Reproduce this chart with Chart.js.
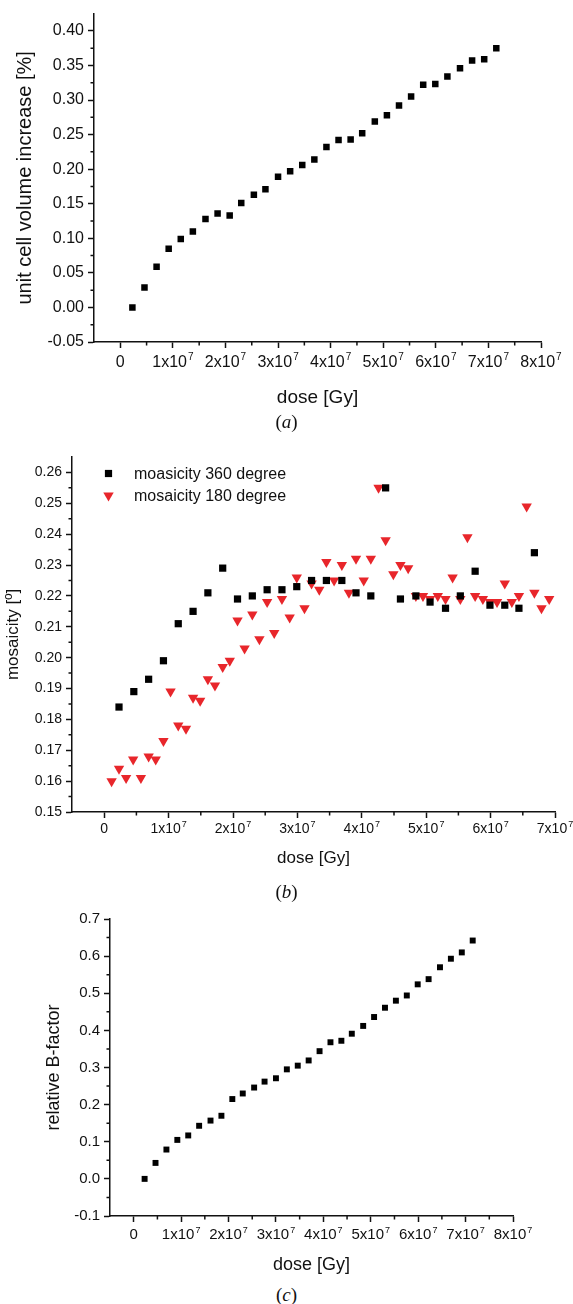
<!DOCTYPE html>
<html>
<head>
<meta charset="utf-8">
<title>Dose dependence</title>
<script src="https://cdn.jsdelivr.net/npm/chart.js@4.4.1/dist/chart.umd.min.js"></script>
<style>
  body { margin: 0; background: #fff; }
  #page { position: relative; width: 573px; height: 1304px; overflow: hidden; background: #fff; }
  canvas { position: absolute; left: 0; }
  .caption {
    position: absolute; left: 0; width: 573px; text-align: center;
    font-family: 'Liberation Serif', 'Times New Roman', serif;
    font-size: 19px; line-height: 20px; color: #111;
  }
</style>
</head>
<body>
<div id="page">
  <canvas id="volumeChart" width="573" height="415" style="top:0"></canvas>
  <canvas id="mosaicChart" width="573" height="440" style="top:440px"></canvas>
  <canvas id="bfactorChart" width="573" height="400" style="top:880px"></canvas>
  <div class="caption" style="top:412px">(<i>a</i>)</div>
  <div class="caption" style="top:882px">(<i>b</i>)</div>
  <div class="caption" style="top:1285px">(<i>c</i>)</div>
</div>

<script>
/* ===============================
   DATA
================================ */
// dose per data set [Gy]
const doseA = [
  2.3e6, 4.6e6, 6.9e6, 9.2e6, 11.5e6, 13.8e6, 16.2e6, 18.5e6, 20.8e6, 23.0e6,
  25.4e6, 27.6e6, 30.0e6, 32.3e6, 34.6e6, 36.9e6, 39.2e6, 41.5e6, 43.8e6, 46.0e6,
  48.4e6, 50.7e6, 53.0e6, 55.3e6, 57.6e6, 59.9e6, 62.2e6, 64.6e6, 66.9e6, 69.2e6,
  71.5e6,
];

// (a) unit cell volume increase [%]
const volumeIncrease = [
  0.000, 0.029, 0.059, 0.085, 0.099, 0.110, 0.128, 0.136, 0.133, 0.151,
  0.163, 0.171, 0.189, 0.197, 0.206, 0.214, 0.232, 0.242, 0.243, 0.252,
  0.269, 0.278, 0.292, 0.305, 0.322, 0.323, 0.334, 0.346, 0.357, 0.359,
  0.375,
];

// (b) mosaicity, 360 degree data sets
const dose360 = [
  2.3e6, 4.6e6, 6.9e6, 9.2e6, 11.5e6, 13.8e6, 16.1e6, 18.4e6, 20.7e6, 23.0e6,
  25.3e6, 27.6e6, 29.9e6, 32.2e6, 34.5e6, 36.9e6, 39.1e6, 41.4e6, 43.7e6, 46.0e6,
  48.4e6, 50.6e6, 53.0e6, 55.3e6, 57.6e6, 59.9e6, 62.2e6, 64.4e6, 66.8e6,
];
const mosaic360 = [
  0.184, 0.189, 0.193, 0.199, 0.211, 0.215, 0.221, 0.229, 0.219, 0.220,
  0.222, 0.222, 0.223, 0.225, 0.225, 0.225, 0.221, 0.220, 0.255, 0.219,
  0.220, 0.218, 0.216, 0.220, 0.228, 0.217, 0.217, 0.216, 0.234,
];

// (b) mosaicity, 180 degree data sets
const dose180 = [
  1.15e6, 2.3e6, 3.4e6, 4.5e6, 5.7e6, 6.9e6, 8.0e6, 9.2e6, 10.3e6, 11.5e6,
  12.7e6, 13.8e6, 14.9e6, 16.1e6, 17.2e6, 18.4e6, 19.5e6, 20.7e6, 21.8e6, 23.0e6,
  24.1e6, 25.3e6, 26.4e6, 27.6e6, 28.8e6, 29.9e6, 31.1e6, 32.2e6, 33.4e6, 34.5e6,
  35.7e6, 36.9e6, 38.0e6, 39.1e6, 40.3e6, 41.4e6, 42.6e6, 43.7e6, 44.9e6, 46.0e6,
  47.2e6, 48.4e6, 49.5e6, 50.6e6, 51.8e6, 53.0e6, 54.1e6, 55.3e6, 56.4e6, 57.6e6,
  58.8e6, 59.9e6, 61.0e6, 62.2e6, 63.3e6, 64.4e6, 65.6e6, 66.8e6, 67.9e6, 69.1e6,
];
const mosaic180 = [
  0.160, 0.164, 0.161, 0.167, 0.161, 0.168, 0.167, 0.173, 0.189, 0.178,
  0.177, 0.187, 0.186, 0.193, 0.191, 0.197, 0.199, 0.212, 0.203, 0.214,
  0.206, 0.218, 0.208, 0.219, 0.213, 0.226, 0.216, 0.224, 0.222, 0.231,
  0.225, 0.230, 0.221, 0.232, 0.225, 0.232, 0.255, 0.238, 0.227, 0.230,
  0.229, 0.220, 0.220, 0.219, 0.220, 0.219, 0.226, 0.219, 0.239, 0.220,
  0.219, 0.218, 0.218, 0.224, 0.218, 0.220, 0.249, 0.221, 0.216, 0.219,
];

// (c) relative B-factor
const relBFactor = [
  0.000, 0.043, 0.079, 0.105, 0.117, 0.143, 0.157, 0.170, 0.215, 0.230,
  0.246, 0.262, 0.271, 0.295, 0.305, 0.319, 0.344, 0.368, 0.372, 0.391,
  0.412, 0.436, 0.461, 0.480, 0.494, 0.524, 0.538, 0.570, 0.593, 0.610,
  0.642,
];

const legend360 = 'moasicity 360 degree';
const legend180 = 'mosaicity 180 degree';

// labeled tick values
const doseTicks8 = [0, 1e7, 2e7, 3e7, 4e7, 5e7, 6e7, 7e7, 8e7];
const doseTicks7 = [0, 1e7, 2e7, 3e7, 4e7, 5e7, 6e7, 7e7];
const volumeTicks = [-0.05, 0, 0.05, 0.10, 0.15, 0.20, 0.25, 0.30, 0.35, 0.40];
const mosaicTicks = [0.15, 0.16, 0.17, 0.18, 0.19, 0.20, 0.21, 0.22, 0.23, 0.24, 0.25, 0.26];
const bfactorTicks = [-0.1, 0, 0.1, 0.2, 0.3, 0.4, 0.5, 0.6, 0.7];

/* ===============================
   HELPERS
================================ */
const FONT = "'Liberation Sans', Arial, Helvetica, sans-serif";
const INK = '#111';
const RED = '#e8262b';

function points(xs, ys) {
  return xs.map((x, i) => ({ x: x, y: ys[i] }));
}

// short unlabeled ticks half way between the labeled ones
const minorTicks = {
  id: 'minorTicks',
  afterDraw(chart, args, opts) {
    const { ctx, chartArea } = chart;
    const xs = chart.scales.x;
    const ys = chart.scales.y;
    ctx.save();
    ctx.strokeStyle = INK;
    ctx.lineWidth = 1.5;
    ctx.beginPath();
    for (let n = Math.ceil(xs.min / opts.x - 1e-6); n * opts.x < xs.max - 1; n++) {
      const v = n * opts.x;
      if (Math.abs(n % 2) !== 1 || v <= xs.min + 1) continue;
      const px = xs.getPixelForValue(v);
      ctx.moveTo(px, chartArea.bottom);
      ctx.lineTo(px, chartArea.bottom + 3.5);
    }
    for (let n = Math.ceil(ys.min / opts.y - 1e-6); n * opts.y < ys.max - 1e-6; n++) {
      const v = n * opts.y;
      if (Math.abs(n % 2) !== 1 || v <= ys.min + 1e-9) continue;
      const py = ys.getPixelForValue(v);
      ctx.moveTo(chartArea.left, py);
      ctx.lineTo(chartArea.left - 3.5, py);
    }
    ctx.stroke();
    ctx.restore();
  },
};

// "1x10^7" style labels with a raised exponent
const doseTickLabels = {
  id: 'doseTickLabels',
  afterDraw(chart, args, opts) {
    const ctx = chart.ctx;
    const xs = chart.scales.x;
    const baseline = chart.chartArea.bottom + opts.offset;
    const big = opts.size + 'px ' + FONT;
    const small = Math.round(opts.size * 0.62) + 'px ' + FONT;
    ctx.save();
    ctx.fillStyle = INK;
    ctx.textBaseline = 'alphabetic';
    ctx.textAlign = 'left';
    xs.ticks.forEach((t) => {
      const n = Math.round(t.value / 1e7);
      const base = n === 0 ? '0' : n + 'x10';
      const sup = n === 0 ? '' : '7';
      ctx.font = big;
      const wb = ctx.measureText(base).width;
      ctx.font = small;
      const ws = sup ? ctx.measureText(sup).width + 1 : 0;
      const x0 = xs.getPixelForValue(t.value) - (wb + ws) / 2;
      ctx.font = big;
      ctx.fillText(base, x0, baseline);
      if (sup) {
        ctx.font = small;
        ctx.fillText(sup, x0 + wb + 1, baseline - opts.size * 0.42);
      }
    });
    ctx.restore();
  },
};

// legend drawn inside the plot area, top left
const insideLegend = {
  id: 'insideLegend',
  afterDraw(chart, args, opts) {
    if (!opts.show) return;
    const ctx = chart.ctx;
    ctx.save();
    chart.data.datasets.forEach((ds, i) => {
      const y = opts.y + i * opts.gap;
      ctx.fillStyle = ds.backgroundColor;
      ctx.strokeStyle = ds.backgroundColor;
      Chart.helpers.drawPoint(ctx, {
        pointStyle: ds.pointStyle,
        rotation: ds.rotation || 0,
        radius: ds.pointRadius,
        borderWidth: 0,
      }, opts.x, y);
      ctx.fillStyle = INK;
      ctx.font = opts.fontSize + 'px ' + FONT;
      ctx.textBaseline = 'middle';
      ctx.textAlign = 'left';
      ctx.fillText(ds.label, opts.textX, y + 1);
    });
    ctx.restore();
  },
};

/* ===============================
   PANEL BUILDER
================================ */
function buildPanel(id, p) {
  const canvas = document.getElementById(id);
  const H = canvas.height;
  const xTitleLH = p.titleSize * 1.2;
  const yTitleLH = p.yTitleSize * 1.2;

  return new Chart(canvas, {
    type: 'scatter',
    data: { datasets: p.datasets },
    options: {
      responsive: false,
      animation: false,
      events: [],
      layout: { padding: { left: 0, top: p.area.top, right: canvas.width - p.area.right, bottom: 0 } },
      plugins: {
        legend: { display: false },
        tooltip: { enabled: false },
        minorTicks: { x: p.xMinor, y: p.yMinor },
        doseTickLabels: { size: p.tickSize, offset: p.xLabelOffset },
        insideLegend: p.legend || { show: false },
      },
      scales: {
        x: {
          type: 'linear',
          min: p.xMin,
          max: p.xMax,
          border: { color: INK, width: 1.5 },
          grid: { drawOnChartArea: false, tickLength: 6, tickWidth: 1.5, tickColor: INK },
          ticks: { display: false },
          afterBuildTicks: (s) => { s.ticks = p.xTicks.map((v) => ({ value: v })); },
          title: {
            display: true,
            text: 'dose [Gy]',
            color: INK,
            font: { family: FONT, size: p.titleSize },
            padding: { top: 0, bottom: H - p.xTitleY - xTitleLH / 2 },
          },
          afterFit: (s) => { s.height = H - p.area.bottom; },
        },
        y: {
          type: 'linear',
          min: p.yMin,
          max: p.yMax,
          border: { color: INK, width: 1.5 },
          grid: { drawOnChartArea: false, tickLength: 6, tickWidth: 1.5, tickColor: INK },
          afterBuildTicks: (s) => { s.ticks = p.yTicks.map((v) => ({ value: v })); },
          ticks: {
            autoSkip: false,
            padding: 4,
            color: INK,
            font: { family: FONT, size: p.tickSize },
            callback: (v) => v.toFixed(p.yDigits),
          },
          title: {
            display: true,
            text: p.yTitle,
            color: INK,
            font: { family: FONT, size: p.yTitleSize },
            padding: { top: p.yTitleX - yTitleLH / 2, bottom: 0 },
          },
          afterFit: (s) => { s.width = p.area.left; },
        },
      },
    },
    plugins: [minorTicks, doseTickLabels, insideLegend],
  });
}

function squares(label, xs, ys, r) {
  return {
    label: label,
    data: points(xs, ys),
    pointStyle: 'rect',
    pointRadius: r,
    backgroundColor: '#000',
    borderColor: '#000',
    borderWidth: 0,
  };
}

/* ===============================
   PANELS
================================ */
buildPanel('volumeChart', {
  area: { left: 94, right: 541, top: 13, bottom: 342 },
  xMin: -0.5e7, xMax: 8e7, xMinor: 0.5e7, xTicks: doseTicks8, xLabelOffset: 24.5,
  yMin: -0.05, yMax: 0.425, yTicks: volumeTicks, yMinor: 0.025, yDigits: 2,
  yTitle: 'unit cell volume increase [%]',
  tickSize: 16, titleSize: 19, yTitleSize: 20,
  xTitleY: 398, yTitleX: 25,
  datasets: [squares('volume', doseA, volumeIncrease, 4.6)],
});

buildPanel('mosaicChart', {
  area: { left: 72, right: 555, top: 17, bottom: 372 },
  xMin: -0.5e7, xMax: 7e7, xMinor: 0.5e7, xTicks: doseTicks7, xLabelOffset: 21,
  yMin: 0.15, yMax: 0.265, yTicks: mosaicTicks, yMinor: 0.005, yDigits: 2,
  yTitle: 'mosaicity [\u00ba]',
  tickSize: 14, titleSize: 17, yTitleSize: 17,
  xTitleY: 418, yTitleX: 13,
  legend: { show: true, x: 108.5, y: 33.5, gap: 22, textX: 134, fontSize: 16 },
  datasets: [
    squares(legend360, dose360, mosaic360, 5.1),
    {
      label: legend180,
      data: points(dose180, mosaic180),
      pointStyle: 'triangle',
      rotation: 180,
      pointRadius: 6,
      backgroundColor: RED,
      borderColor: RED,
      borderWidth: 0,
    },
  ],
});

buildPanel('bfactorChart', {
  area: { left: 110, right: 513, top: 39, bottom: 336 },
  xMin: -0.5e7, xMax: 8e7, xMinor: 0.5e7, xTicks: doseTicks8, xLabelOffset: 23,
  yMin: -0.1, yMax: 0.7, yTicks: bfactorTicks, yMinor: 0.05, yDigits: 1,
  yTitle: 'relative B-factor',
  tickSize: 15, titleSize: 18, yTitleSize: 18,
  xTitleY: 385, yTitleX: 54,
  datasets: [squares('B-factor', doseA, relBFactor, 4.2)],
});
</script>
</body>
</html>
